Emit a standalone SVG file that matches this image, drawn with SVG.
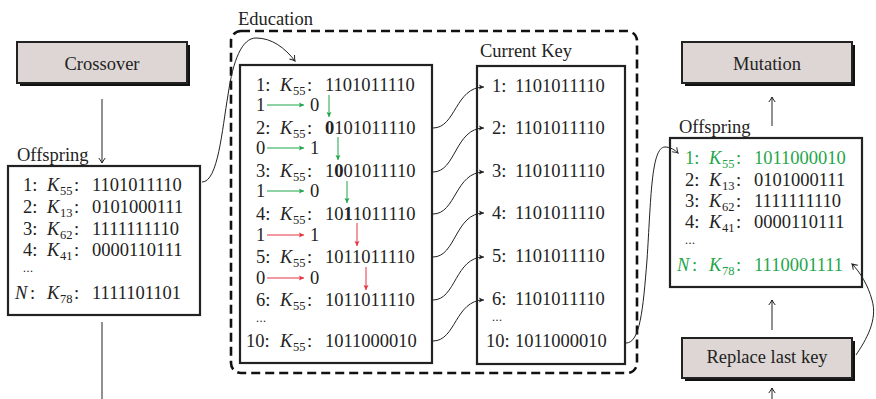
<svg xmlns="http://www.w3.org/2000/svg" width="876" height="399" viewBox="0 0 876 399" font-family="'Liberation Serif','DejaVu Serif',serif">
<style>
text{font-family:"Liberation Serif","DejaVu Serif",serif;font-size:18.5px;fill:#222}
.i{font-style:italic}
.s{font-size:12.5px}
.d{font-size:12px;letter-spacing:0.5px}
.g, .g tspan{fill:#1fa64a}
.b{font-weight:bold}
.box{fill:#fff;stroke:#222;stroke-width:2.2}
.pbox{fill:#ddd6d4;stroke:#222;stroke-width:2}
.sh{fill:#111}
.c{fill:none;stroke:#222;stroke-width:1}
.cg{fill:none;stroke:#1fa64a;stroke-width:1}
.cr{fill:none;stroke:#e8333f;stroke-width:1}
.dash{fill:none;stroke:#111;stroke-width:2.6;stroke-dasharray:9 5}
</style>
<defs>
<marker id="to" viewBox="-6 -4 7 8" markerWidth="7" markerHeight="8" refX="0" refY="0" orient="auto" markerUnits="userSpaceOnUse">
<path d="M-5,-3.2 Q-1.5,-0.6 0,0 Q-1.5,0.6 -5,3.2" fill="none" stroke="#222" stroke-width="1"/>
</marker>
<marker id="tk" viewBox="-6 -3 7 6" markerWidth="7" markerHeight="6" refX="0" refY="0" orient="auto" markerUnits="userSpaceOnUse">
<path d="M-5,-2.5 L0,0 L-5,2.5 L-4,0 Z" fill="#222"/>
</marker>
<marker id="tg" viewBox="-6 -3 7 6" markerWidth="7" markerHeight="6" refX="0" refY="0" orient="auto" markerUnits="userSpaceOnUse">
<path d="M-5,-2.5 L0,0 L-5,2.5 L-4,0 Z" fill="#1fa64a"/>
</marker>
<marker id="tr" viewBox="-6 -3 7 6" markerWidth="7" markerHeight="6" refX="0" refY="0" orient="auto" markerUnits="userSpaceOnUse">
<path d="M-5,-2.5 L0,0 L-5,2.5 L-4,0 Z" fill="#e8333f"/>
</marker>
</defs>
<rect width="876" height="399" fill="#fff"/>

<g id="education-group">
<rect class="dash" x="231" y="31" width="406" height="342" rx="10"/>
<text x="238" y="25">Education</text>
</g>

<g id="crossover">
<rect class="sh" x="20" y="45" width="170" height="41"/>
<rect class="pbox" x="17" y="42" width="170" height="41"/>
<text x="102" y="70" text-anchor="middle">Crossover</text>
</g>

<g id="mutation">
<rect class="sh" x="685" y="45" width="170" height="41"/>
<rect class="pbox" x="682" y="42" width="170" height="41"/>
<text x="767" y="70" text-anchor="middle">Mutation</text>
</g>

<g id="replace">
<rect class="sh" x="685" y="341" width="170" height="40"/>
<rect class="pbox" x="682" y="338" width="170" height="40"/>
<text x="767" y="363" text-anchor="middle">Replace last key</text>
</g>

<g id="offspring-left">
<text x="17" y="161">Offspring</text>
<rect class="box" x="8" y="166" width="192" height="149"/>
<text y="191"><tspan x="23">1:</tspan><tspan x="47" class="i">K</tspan><tspan x="60" dy="4" class="s">55</tspan><tspan x="74" dy="-4">:</tspan><tspan x="92">1101011110</tspan></text>
<text y="213"><tspan x="23">2:</tspan><tspan x="47" class="i">K</tspan><tspan x="60" dy="4" class="s">13</tspan><tspan x="74" dy="-4">:</tspan><tspan x="92">0101000111</tspan></text>
<text y="235"><tspan x="23">3:</tspan><tspan x="47" class="i">K</tspan><tspan x="60" dy="4" class="s">62</tspan><tspan x="74" dy="-4">:</tspan><tspan x="92">1111111110</tspan></text>
<text y="256"><tspan x="23">4:</tspan><tspan x="47" class="i">K</tspan><tspan x="60" dy="4" class="s">41</tspan><tspan x="74" dy="-4">:</tspan><tspan x="92">0000110111</tspan></text>
<text x="23" y="272" class="d">...</text>
<text y="299"><tspan x="15" class="i">N</tspan><tspan x="30">:</tspan><tspan x="47" class="i">K</tspan><tspan x="60" dy="4" class="s">78</tspan><tspan x="74" dy="-4">:</tspan><tspan x="92">1111101101</tspan></text>
</g>

<g id="education-box">
<rect class="box" x="240" y="65" width="192" height="298"/>
<text y="91"><tspan x="256">1:</tspan><tspan x="280" class="i">K</tspan><tspan x="293" dy="4" class="s">55</tspan><tspan x="307" dy="-4">:</tspan><tspan x="325">1101011110</tspan></text>
<text y="111"><tspan x="256">1</tspan><tspan x="310">0</tspan></text>
<text y="134"><tspan x="256">2:</tspan><tspan x="280" class="i">K</tspan><tspan x="293" dy="4" class="s">55</tspan><tspan x="307" dy="-4">:</tspan><tspan x="325" class="b">0</tspan><tspan>101011110</tspan></text>
<text y="154"><tspan x="256">0</tspan><tspan x="310">1</tspan></text>
<text y="177"><tspan x="256">3:</tspan><tspan x="280" class="i">K</tspan><tspan x="293" dy="4" class="s">55</tspan><tspan x="307" dy="-4">:</tspan><tspan x="325">1</tspan><tspan class="b">0</tspan><tspan>01011110</tspan></text>
<text y="197"><tspan x="256">1</tspan><tspan x="310">0</tspan></text>
<text y="220"><tspan x="256">4:</tspan><tspan x="280" class="i">K</tspan><tspan x="293" dy="4" class="s">55</tspan><tspan x="307" dy="-4">:</tspan><tspan x="325">10</tspan><tspan class="b">1</tspan><tspan>1011110</tspan></text>
<text y="241"><tspan x="256">1</tspan><tspan x="310">1</tspan></text>
<text y="263"><tspan x="256">5:</tspan><tspan x="280" class="i">K</tspan><tspan x="293" dy="4" class="s">55</tspan><tspan x="307" dy="-4">:</tspan><tspan x="325">1011011110</tspan></text>
<text y="284"><tspan x="256">0</tspan><tspan x="310">0</tspan></text>
<text y="306"><tspan x="256">6:</tspan><tspan x="280" class="i">K</tspan><tspan x="293" dy="4" class="s">55</tspan><tspan x="307" dy="-4">:</tspan><tspan x="325">1011011110</tspan></text>
<text x="256" y="322" class="d">...</text>
<text y="347"><tspan x="246">10:</tspan><tspan x="280" class="i">K</tspan><tspan x="293" dy="4" class="s">55</tspan><tspan x="307" dy="-4">:</tspan><tspan x="325">1011000010</tspan></text>
<path class="cg" d="M267,105 H304" marker-end="url(#tg)"/>
<path class="cg" d="M267,148 H304" marker-end="url(#tg)"/>
<path class="cg" d="M267,191 H304" marker-end="url(#tg)"/>
<path class="cr" d="M267,235 H304" marker-end="url(#tr)"/>
<path class="cr" d="M267,278 H304" marker-end="url(#tr)"/>
<path class="cg" d="M329,95 V117" marker-end="url(#tg)"/>
<path class="cg" d="M338,137 V160" marker-end="url(#tg)"/>
<path class="cg" d="M347,181 V203" marker-end="url(#tg)"/>
<path class="cr" d="M357,223 V246" marker-end="url(#tr)"/>
<path class="cr" d="M366,267 V290" marker-end="url(#tr)"/>
</g>

<g id="current-key">
<text x="480" y="57">Current Key</text>
<rect class="box" x="477" y="66" width="148" height="298"/>
<text y="92"><tspan x="492">1:</tspan><tspan x="515">1101011110</tspan></text>
<text y="134"><tspan x="492">2:</tspan><tspan x="515">1101011110</tspan></text>
<text y="177"><tspan x="492">3:</tspan><tspan x="515">1101011110</tspan></text>
<text y="219"><tspan x="492">4:</tspan><tspan x="515">1101011110</tspan></text>
<text y="262"><tspan x="492">5:</tspan><tspan x="515">1101011110</tspan></text>
<text y="305"><tspan x="492">6:</tspan><tspan x="515">1101011110</tspan></text>
<text x="492" y="321" class="d">...</text>
<text y="347"><tspan x="486">10:</tspan><tspan x="515">1011000010</tspan></text>
</g>

<g id="offspring-right">
<text x="679" y="133">Offspring</text>
<rect class="box" x="670" y="138" width="192" height="149"/>
<text y="164" class="g"><tspan x="685">1:</tspan><tspan x="709" class="i">K</tspan><tspan x="722" dy="4" class="s">55</tspan><tspan x="736" dy="-4">:</tspan><tspan x="754">1011000010</tspan></text>
<text y="186"><tspan x="685">2:</tspan><tspan x="709" class="i">K</tspan><tspan x="722" dy="4" class="s">13</tspan><tspan x="736" dy="-4">:</tspan><tspan x="754">0101000111</tspan></text>
<text y="207"><tspan x="685">3:</tspan><tspan x="709" class="i">K</tspan><tspan x="722" dy="4" class="s">62</tspan><tspan x="736" dy="-4">:</tspan><tspan x="754">1111111110</tspan></text>
<text y="228"><tspan x="685">4:</tspan><tspan x="709" class="i">K</tspan><tspan x="722" dy="4" class="s">41</tspan><tspan x="736" dy="-4">:</tspan><tspan x="754">0000110111</tspan></text>
<text x="685" y="244" class="d">...</text>
<text y="271" class="g"><tspan x="677" class="i">N</tspan><tspan x="692">:</tspan><tspan x="709" class="i">K</tspan><tspan x="722" dy="4" class="s">78</tspan><tspan x="736" dy="-4">:</tspan><tspan x="754">1110001111</tspan></text>
</g>

<g id="connectors">
<path class="c" d="M102,99 V163" marker-end="url(#to)"/>
<path class="c" d="M102,322 V399"/>
<path class="c" d="M202,182 C218,182 222,130 228,95 C233,60 242,38 256,38 C272,38 285,48 295,61" marker-end="url(#to)"/>
<path class="c" d="M433,128 C456,128 455,87 484,87" marker-end="url(#tk)"/>
<path class="c" d="M433,172 C456,172 455,128 484,128" marker-end="url(#tk)"/>
<path class="c" d="M433,214 C456,214 455,172 484,172" marker-end="url(#tk)"/>
<path class="c" d="M433,257 C456,257 455,213 484,213" marker-end="url(#tk)"/>
<path class="c" d="M433,300 C456,300 455,257 484,257" marker-end="url(#tk)"/>
<path class="c" d="M433,341 C456,341 455,300 484,300" marker-end="url(#tk)"/>
<path class="c" d="M626,343 C640,343 643,310 647,260 C651,200 651,147 665,147 C670,147 675,150 678,153" marker-end="url(#to)"/>
<path class="c" d="M772,126 V97" marker-end="url(#to)"/>
<path class="c" d="M772,330 V300" marker-end="url(#to)"/>
<path class="c" d="M772,399 V388" marker-end="url(#to)"/>
<path class="c" d="M856,355 C866,340 878,320 872,300 C868,285 860,272 852,264" marker-end="url(#to)"/>
</g>
</svg>
